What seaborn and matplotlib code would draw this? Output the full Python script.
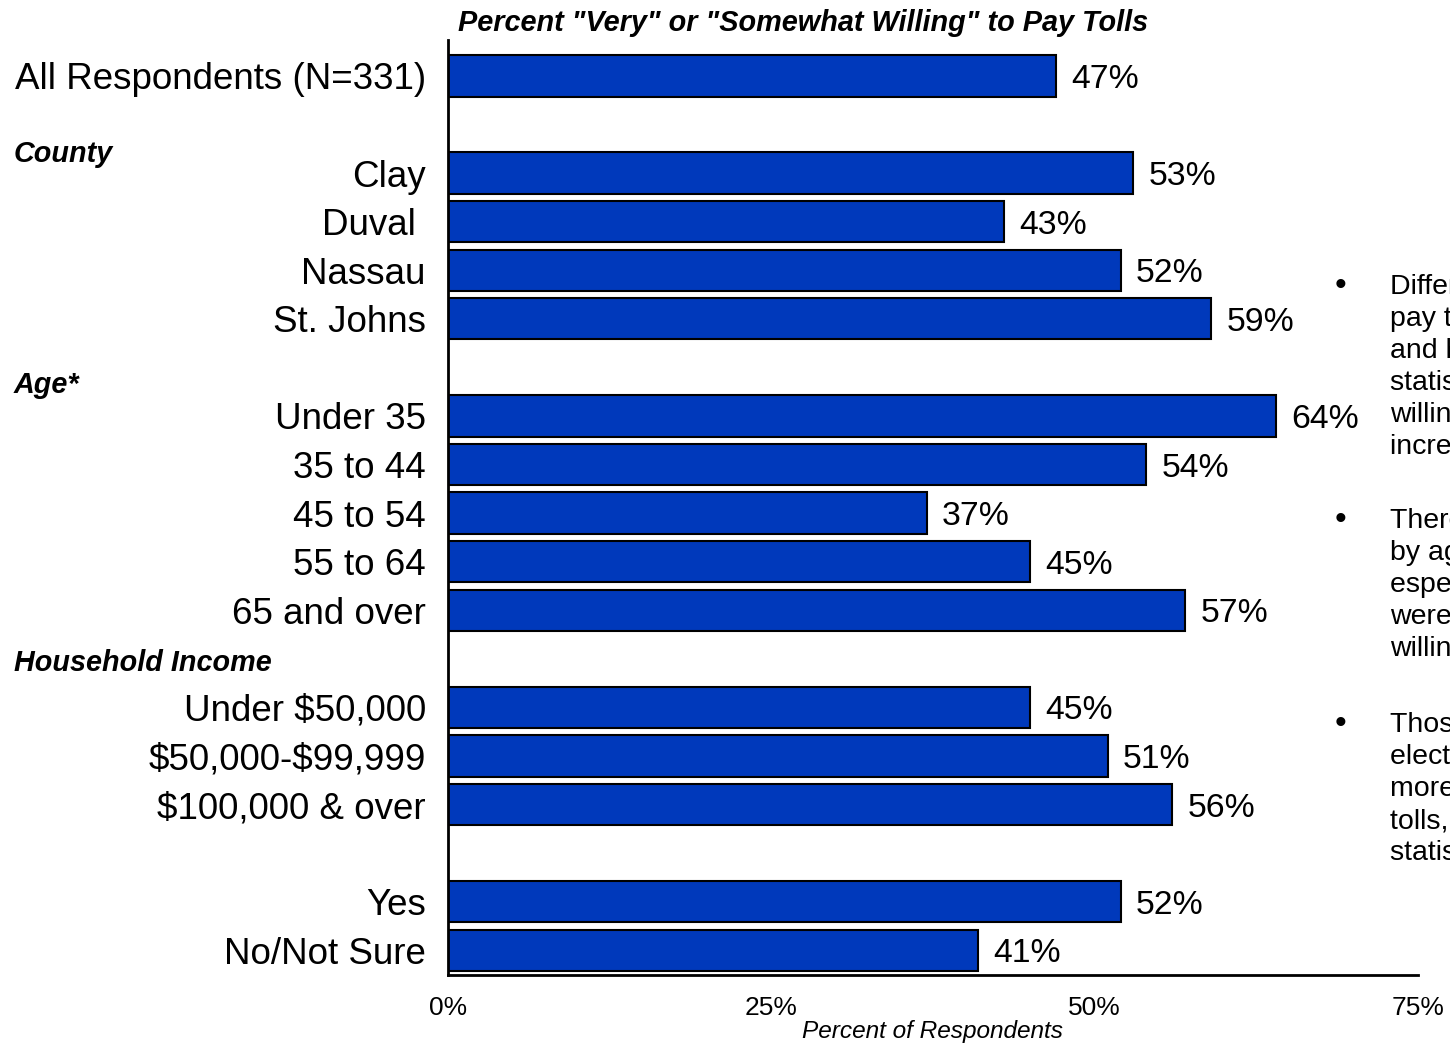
import numpy as np
import pandas as pd
import matplotlib
matplotlib.use("Agg")
import matplotlib.pyplot as plt
import matplotlib.transforms as mtransforms
import seaborn as sns

# ---- data -------------------------------------------------------------
overall_labels = ["All Respondents (N=331)"]
overall_values = [47]
county_labels = ["Clay", "Duval ", "Nassau", "St. Johns"]
county_values = [53, 43, 52, 59]
age_labels = ["Under 35", "35 to 44", "45 to 54", "55 to 64", "65 and over"]
age_values = [64, 54, 37, 45, 57]
income_labels = ["Under $50,000", "$50,000-$99,999", "$100,000 & over"]
income_values = [45, 51, 56]
transponder_labels = ["Yes", "No/Not Sure"]
transponder_values = [52, 41]
x_ticks = [0, 25, 50, 75]
group_headers = ["County", "Age*", "Household Income"]

notes = [
    ["Differences in willingness to",
     "pay tolls by county, income",
     "and household size are not",
     "statistically significant, though",
     "willingness tends to",
     "increase with income."],
    ["There are differences",
     "by age group,",
     "especially as those 45 to 54",
     "were much less",
     "willing to pay tolls."],
    ["Those with an",
     "electronic toll transponder are",
     "more willing to pay",
     "tolls, but differences are not",
     "statistically significant."],
]

# ---- layout: one blank row between groups ------------------------------
groups = [
    (overall_labels, overall_values),
    (county_labels, county_values),
    (age_labels, age_values),
    (income_labels, income_values),
    (transponder_labels, transponder_values),
]
rows = []
pos = 0
for labels, values in groups:
    for lab, val in zip(labels, values):
        rows.append({"label": lab, "value": val, "pos": pos})
        pos += 1
    pos += 1
df = pd.DataFrame(rows)

sns.set_style("white")
plt.rcParams["font.family"] = ["Liberation Sans", "DejaVu Sans"]
plt.rcParams["text.parse_math"] = False
plt.rcParams["text.color"] = "black"
plt.rcParams["xtick.color"] = "black"
plt.rcParams["ytick.color"] = "black"
plt.rcParams["axes.labelcolor"] = "black"

fig = plt.figure(figsize=(14.5, 10.47), dpi=100)
ax = fig.add_axes([448 / 1450, 1 - 975 / 1047, 970 / 1450, 935 / 1047])

bar_color = "#0039BB"
sns.barplot(data=df, x="value", y="pos", orient="y", native_scale=True,
            color=bar_color, saturation=1, width=0.85,
            edgecolor="black", linewidth=1.5, ax=ax)

for container in ax.containers:
    texts = ax.bar_label(container, labels=[f"{v:.0f}%" for v in container.datavalues],
                         padding=11, fontsize=24.3, color="black")
    for t in texts:
        t.set_va("center_baseline")

ax.set_xlim(0, 75)
ax.set_ylim(18.51, -0.74)
ax.set_xticks(x_ticks)
ax.set_xticklabels([f"{t}%" for t in x_ticks], fontsize=19)
ax.set_yticks(df["pos"])
ax.set_yticklabels(df["label"], fontsize=26.5)
ax.tick_params(axis="y", length=0, pad=16)
ax.tick_params(axis="x", length=0, pad=15)
ax.set_xlabel("Percent of Respondents", fontsize=17.6, style="italic", labelpad=0)
ax.set_ylabel("")

for side in ["top", "right"]:
    ax.spines[side].set_visible(False)
for side in ["left", "bottom"]:
    ax.spines[side].set_color("black")
    ax.spines[side].set_linewidth(2)

# group headers at the left edge of the figure
header_rows = [1.6, 6.36, 12.09]
header_tr = mtransforms.blended_transform_factory(fig.transFigure, ax.transData)
for text, y in zip(group_headers, header_rows):
    ax.text(14 / 1450, y, text, transform=header_tr,
            ha="left", va="center", fontsize=20.7, fontweight="bold", style="italic")

fig.text(803 / 1450, 1 - 23 / 1047,
         'Percent "Very" or "Somewhat Willing" to Pay Tolls',
         ha="center", va="center", fontsize=20.8, fontweight="bold", style="italic")

# commentary bullets at the right edge
block_tops = [287, 521, 725]
line_step = 32
for lines, top in zip(notes, block_tops):
    fig.text(1341 / 1450, 1 - top / 1047, "\u2022", ha="center", va="center", fontsize=24)
    for i, line in enumerate(lines):
        fig.text(1390 / 1450, 1 - (top + i * line_step) / 1047, line,
                 ha="left", va="center", fontsize=20.5)

fig.savefig("out.png", dpi=100)
